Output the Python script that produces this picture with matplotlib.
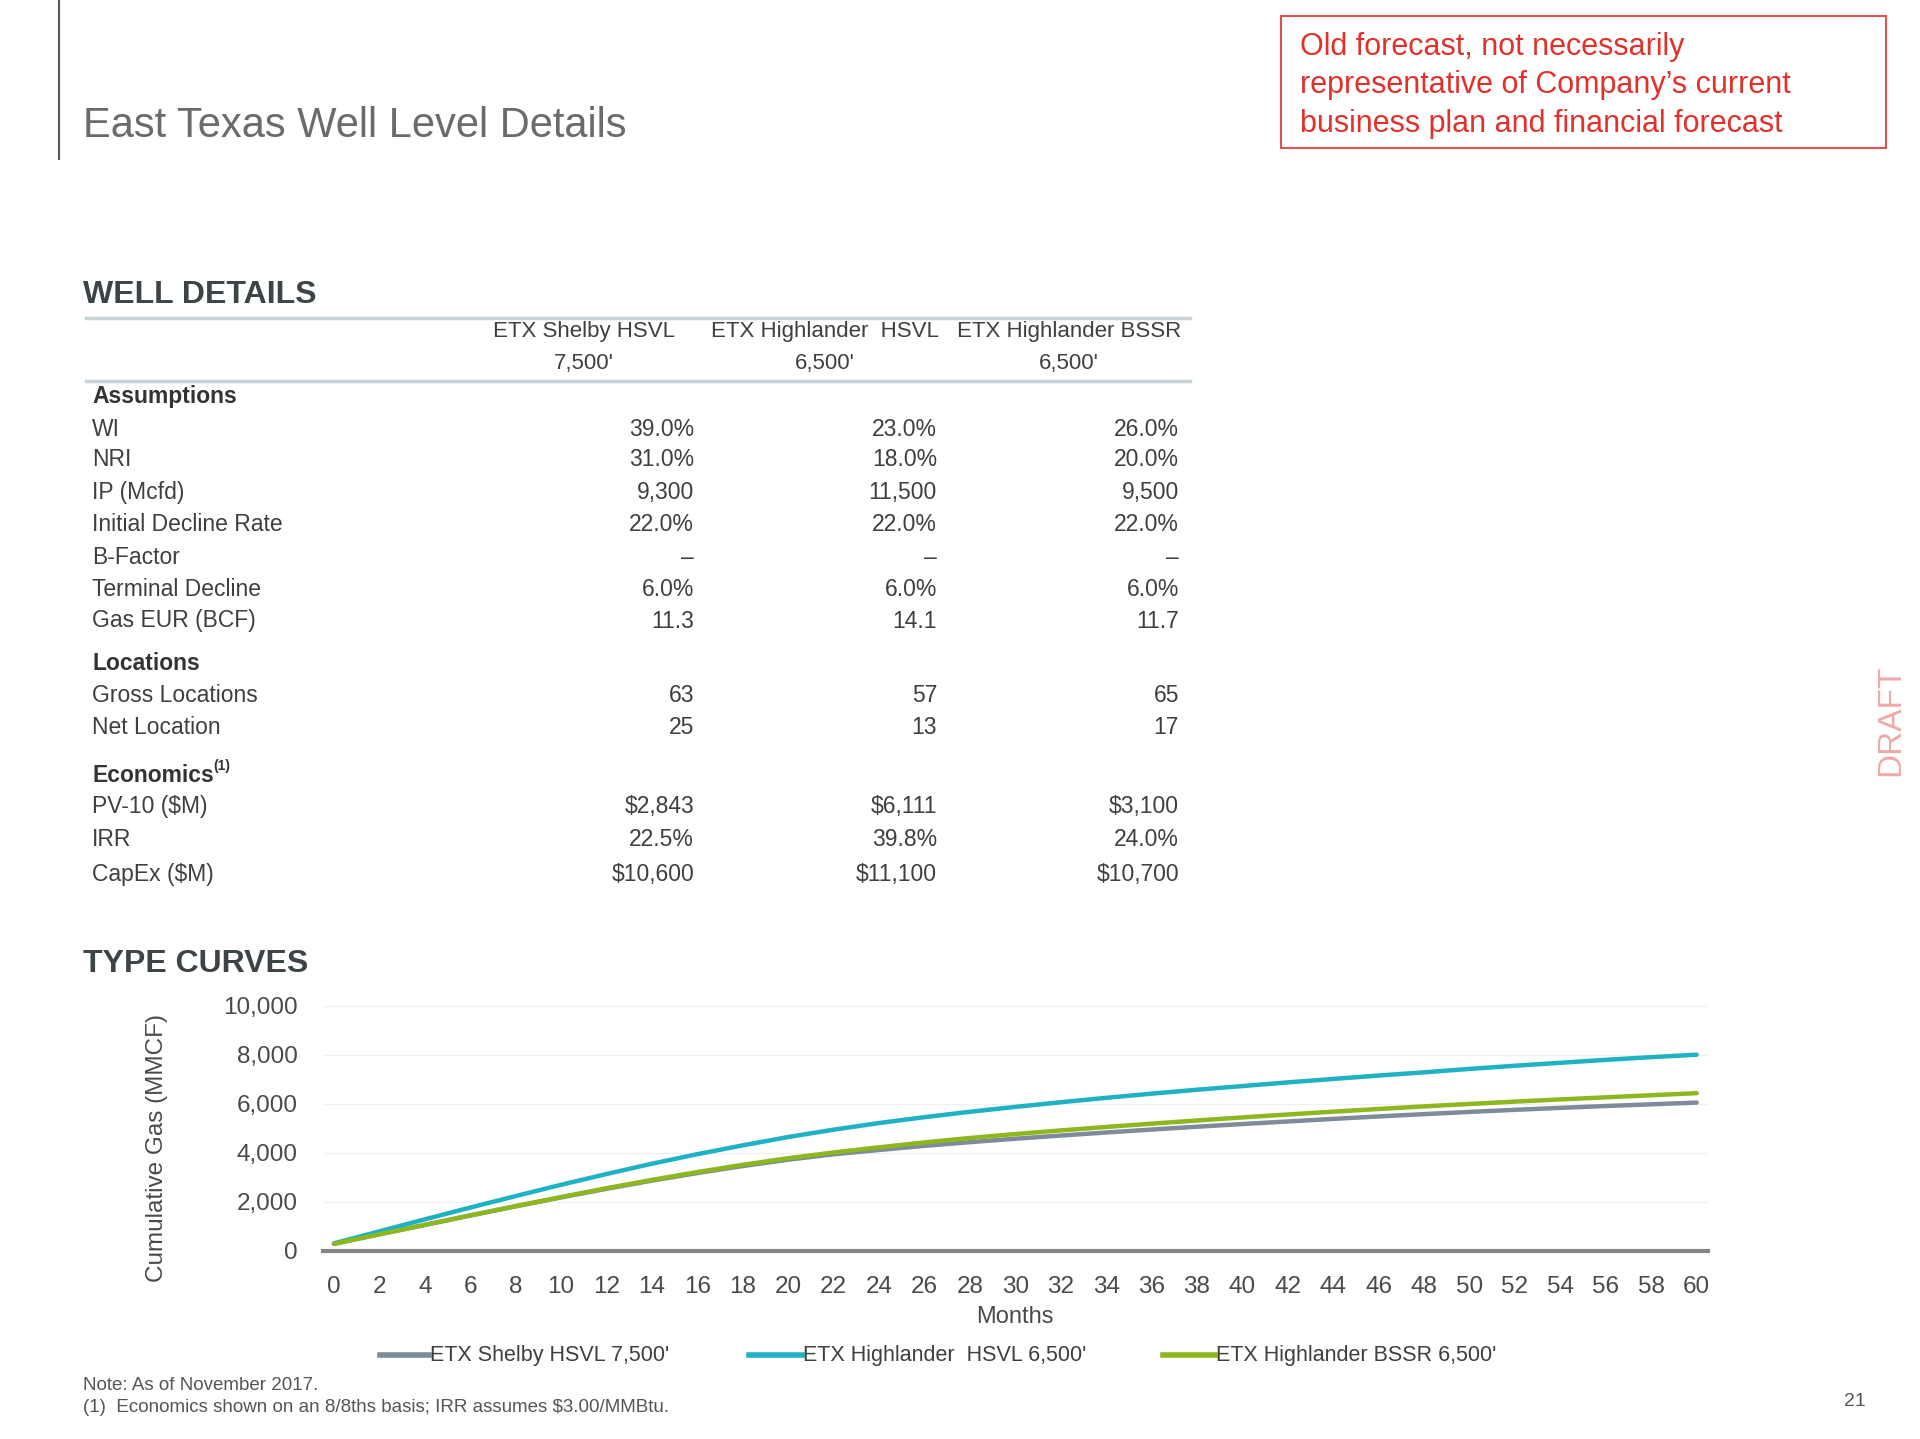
import numpy as np
import matplotlib
matplotlib.use("Agg")
import matplotlib.pyplot as plt
from matplotlib import font_manager
from matplotlib.lines import Line2D

# ---- data ----
months = list(range(0, 61, 2))
shelby_hsvl = [280, 670, 1050, 1435, 1810, 2175, 2525, 2860, 3170, 3455, 3715,
               3935, 4110, 4280, 4430, 4570, 4700, 4825, 4945, 5060, 5170,
               5275, 5380, 5480, 5575, 5665, 5750, 5830, 5905, 5975, 6045]
highlander_hsvl = [300, 790, 1280, 1760, 2230, 2690, 3130, 3550, 3940, 4300, 4640,
                   4940, 5210, 5450, 5670, 5870, 6060, 6240, 6410, 6570, 6720,
                   6870, 7010, 7150, 7280, 7420, 7550, 7670, 7790, 7900, 8000]
highlander_bssr = [280, 670, 1055, 1440, 1820, 2190, 2550, 2890, 3210, 3505, 3775,
                   4010, 4220, 4420, 4600, 4760, 4910, 5050, 5185, 5315, 5440,
                   5560, 5675, 5785, 5890, 5990, 6085, 6175, 6260, 6345, 6430]
series_names = ["ETX Shelby HSVL 7,500'", "ETX Highlander  HSVL 6,500'", "ETX Highlander BSSR 6,500'"]
y_ticks = [0, 2000, 4000, 6000, 8000, 10000]

col_headers = [("ETX Shelby HSVL", "7,500'"),
               ("ETX Highlander  HSVL", "6,500'"),
               ("ETX Highlander BSSR", "6,500'")]
# (label, values, is_section_header)
table_rows = [
    ("Assumptions", None, True),
    ("WI", ["39.0%", "23.0%", "26.0%"], False),
    ("NRI", ["31.0%", "18.0%", "20.0%"], False),
    ("IP (Mcfd)", ["9,300", "11,500", "9,500"], False),
    ("Initial Decline Rate", ["22.0%", "22.0%", "22.0%"], False),
    ("B-Factor", ["\u2013", "\u2013", "\u2013"], False),
    ("Terminal Decline", ["6.0%", "6.0%", "6.0%"], False),
    ("Gas EUR (BCF)", ["11.3", "14.1", "11.7"], False),
    ("Locations", None, True),
    ("Gross Locations", ["63", "57", "65"], False),
    ("Net Location", ["25", "13", "17"], False),
    ("Economics", None, True),
    ("PV-10 ($M)", ["$2,843", "$6,111", "$3,100"], False),
    ("IRR", ["22.5%", "39.8%", "24.0%"], False),
    ("CapEx ($M)", ["$10,600", "$11,100", "$10,700"], False),
]
row_y = [397, 429, 460, 492, 524, 557, 589, 621, 664, 696, 727, 775, 807, 840, 874]

# ---- fonts ----
installed = {f.name for f in font_manager.fontManager.ttflist}
narrow = "Liberation Sans Narrow" if "Liberation Sans Narrow" in installed else "Liberation Sans"
plt.rcParams["font.family"] = ["Liberation Sans", "DejaVu Sans"]

W, H = 1920, 1439
fig = plt.figure(figsize=(W / 100, H / 100), dpi=100)


def fx(px):
    return px / W


def fy(py):
    return 1 - py / H


grey_txt = "#3f3f3f"

# title area
fig.add_artist(Line2D([fx(59), fx(59)], [fy(0), fy(159)], color="#555555", lw=1.5))
fig.text(fx(83), fy(126), "East Texas Well Level Details", fontsize=30, color="#6b6b6b",
         va="center", ha="left")

# red disclaimer box
box = plt.Rectangle((fx(1281), fy(148)), fx(1886) - fx(1281), fy(16) - fy(148),
                    transform=fig.transFigure, fill=False, edgecolor="#e05050", lw=1.5)
fig.add_artist(box)
for i, line in enumerate(["Old forecast, not necessarily",
                          "representative of Company\u2019s current",
                          "business plan and financial forecast"]):
    fig.text(fx(1300), fy(47 + i * 38.5), line, fontsize=22, color="#e0312b", va="center", ha="left")

fig.text(fx(1891), fy(720), "DRAFT", fontsize=24, color="#eeaaaa", rotation=90,
         va="center", ha="center")
fig.text(fx(1866), fy(1402), "21", fontsize=14, color="#555555", va="center", ha="right")

# ---- well details table ----
fig.text(fx(83), fy(295), "WELL DETAILS", fontsize=23, fontweight="bold", color="#3c4448",
         va="center", ha="left")
for ly in (318, 381):
    fig.add_artist(Line2D([fx(86), fx(1190)], [fy(ly), fy(ly)], color="#c9d3d8", lw=2.5))

col_centers = [584, 825, 1069]
col_right = [694, 937, 1179]
for cx, (h1, h2) in zip(col_centers, col_headers):
    fig.text(fx(cx), fy(332), h1, fontsize=16, family=narrow, color=grey_txt, ha="center", va="center")
    fig.text(fx(cx), fy(364), h2, fontsize=16, family=narrow, color=grey_txt, ha="center", va="center")

for (label, vals, is_head), yy in zip(table_rows, row_y):
    if is_head:
        fig.text(fx(92), fy(yy), label, fontsize=16.5, family=narrow, fontweight="bold",
                 color="#333333", ha="left", va="center")
        if label == "Economics":
            fig.text(fx(213), fy(yy - 9), "(1)", fontsize=10, family=narrow, fontweight="bold",
                     color="#333333", ha="left", va="center")
    else:
        fig.text(fx(92), fy(yy), label, fontsize=16.5, family=narrow, color=grey_txt,
                 ha="left", va="center")
        for rx, v in zip(col_right, vals):
            fig.text(fx(rx), fy(yy), v, fontsize=16.5, family=narrow, color=grey_txt,
                     ha="right", va="center")

# ---- type curves chart ----
fig.text(fx(83), fy(964), "TYPE CURVES", fontsize=23, fontweight="bold", color="#3c4448",
         va="center", ha="left")

ax = fig.add_axes([fx(322.6), fy(1250.7), fx(1708) - fx(322.6), fy(1005.7) - fy(1250.7)])
colors = ["#7d8b9b", "#1eb2c4", "#8cb81d"]
ax.plot(months, shelby_hsvl, color=colors[0], lw=3.2, solid_capstyle="round", clip_on=False, zorder=3)
ax.plot(months, highlander_hsvl, color=colors[1], lw=3.2, solid_capstyle="round", clip_on=False, zorder=4)
ax.plot(months, highlander_bssr, color=colors[2], lw=3.2, solid_capstyle="round", clip_on=False, zorder=5)

ax.set_xlim(-0.5, 60.5)
ax.set_ylim(0, 10000)
ax.set_xticks(months)
ax.set_xticklabels([str(m) for m in months])
ax.set_yticks(y_ticks)
ax.set_yticklabels([f"{v:,}" for v in y_ticks])
ax.tick_params(axis="both", length=0, labelsize=17.5, colors="#4a4a4a")
ax.tick_params(axis="y", pad=18)
ax.tick_params(axis="x", pad=18)
ax.grid(axis="y", color="#f0f0f0", lw=1)
ax.set_axisbelow(True)
for side in ("top", "right", "left"):
    ax.spines[side].set_visible(False)
ax.spines["bottom"].set_color("#858585")
ax.spines["bottom"].set_linewidth(3)
ax.spines["bottom"].set_zorder(2)
ax.set_xlabel("Months", fontsize=17, color="#4a4a4a", labelpad=6)
fig.text(fx(157), fy(1148), "Cumulative Gas (MMCF)", fontsize=17.5, family=narrow, color="#4a4a4a",
         rotation=90, ha="center", va="center")

# legend drawn by hand to follow slide spacing
legend_x = [(380, 429), (749, 802), (1163, 1215)]
for (x0, x1), c, name in zip(legend_x, colors, series_names):
    fig.add_artist(Line2D([fx(x0), fx(x1)], [fy(1355), fy(1355)], color=c, lw=4))
    fig.text(fx(x1 + 1), fy(1355), name, fontsize=15.5, family=narrow, color=grey_txt,
             ha="left", va="center")

fig.text(fx(83), fy(1386), "Note: As of November 2017.", fontsize=13.5, family=narrow,
         color="#555555", ha="left", va="center")
fig.text(fx(83), fy(1408), "(1)  Economics shown on an 8/8ths basis; IRR assumes $3.00/MMBtu.",
         fontsize=13.5, family=narrow, color="#555555", ha="left", va="center")

fig.savefig("out.png", dpi=100, facecolor="white")
